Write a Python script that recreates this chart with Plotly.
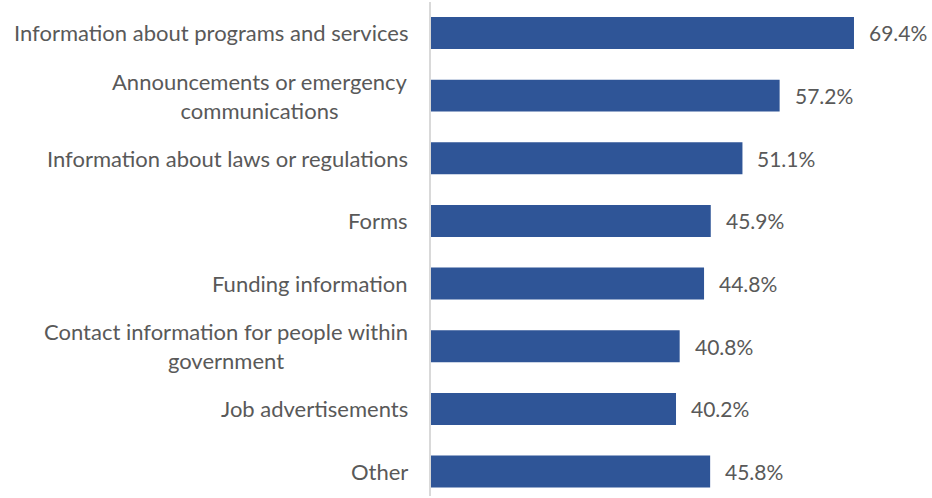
import plotly.graph_objects as go

categories = [
    "Information about programs and services",
    "Announcements or emergency<br>communications",
    "Information about laws or regulations",
    "Forms",
    "Funding information",
    "Contact information for people within<br>government",
    "Job advertisements",
    "Other",
]
values = [69.4, 57.2, 51.1, 45.9, 44.8, 40.8, 40.2, 45.8]

positions = list(range(len(categories)))
bar_color = "#2F5597"
text_color = "#595959"
font_family = "Lato, Carlito, Calibri, sans-serif"

fig = go.Figure(
    go.Bar(
        x=values,
        y=positions,
        orientation="h",
        marker=dict(color=bar_color, line=dict(width=0)),
        width=0.51,
        hoverinfo="skip",
    )
)

annotations = []
# value labels to the right of each bar
for pos, val in zip(positions, values):
    annotations.append(
        dict(
            x=val, y=pos, xref="x", yref="y",
            text=f"{val:.1f}%",
            showarrow=False, xanchor="left", yanchor="middle",
            xshift=13,
            font=dict(family=font_family, size=21, color=text_color),
        )
    )
# category labels, centred within their block and right-aligned to the axis
for pos, cat in zip(positions, categories):
    annotations.append(
        dict(
            x=0, y=pos, xref="paper", yref="y",
            text=cat,
            showarrow=False, xanchor="right", yanchor="middle",
            align="center", xshift=-21,
            font=dict(family=font_family, size=22, color=text_color),
        )
    )

fig.update_layout(
    width=932,
    height=498,
    margin=dict(l=431, r=0, t=2, b=2),
    plot_bgcolor="white",
    paper_bgcolor="white",
    showlegend=False,
    annotations=annotations,
    xaxis=dict(
        range=[0, 82.2],
        showgrid=False,
        zeroline=False,
        showticklabels=False,
        showline=False,
        fixedrange=True,
    ),
    yaxis=dict(
        range=[7.39, -0.494],
        showgrid=False,
        zeroline=False,
        showticklabels=False,
        showline=True,
        linecolor="#D9D9D9",
        linewidth=2,
        fixedrange=True,
    ),
)

fig.write_html("out.html", config={"displayModeBar": False})
